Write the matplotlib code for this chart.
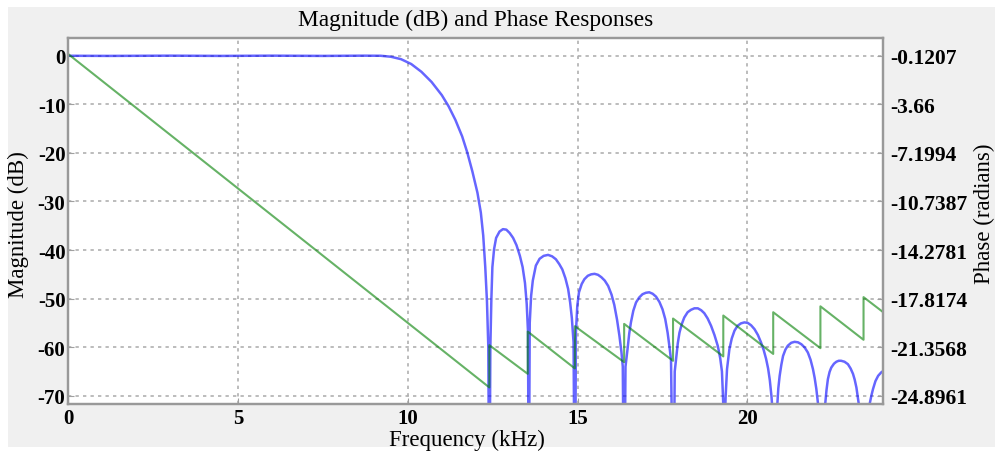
import matplotlib.pyplot as plt
from matplotlib.patches import Rectangle

# magnitude response (kHz, dB)
freq_mag = [0.0, 1.2, 3.0, 4.5, 6.0, 7.5, 8.7, 9.2, 9.5, 9.8, 10.1, 10.4, 10.7, 11.0, 11.2,
            11.4, 11.6, 11.75, 11.9, 12.05, 12.15, 12.22, 12.28, 12.33, 12.37, 12.40,
            12.43, 12.46, 12.49, 12.54, 12.60, 12.70, 12.80, 12.90, 13.00, 13.10, 13.20,
            13.30, 13.38, 13.45, 13.50, 13.54, 13.56,
            13.59, 13.63, 13.68, 13.77, 13.88, 14.00, 14.13, 14.25, 14.36, 14.46, 14.55,
            14.64, 14.72, 14.78, 14.83, 14.88, 14.92,
            14.95, 14.99, 15.04, 15.12, 15.20, 15.30, 15.40, 15.50, 15.60, 15.70, 15.80,
            15.90, 16.00, 16.08, 16.16, 16.23, 16.29, 16.33, 16.37,
            16.41, 16.47, 16.52, 16.57, 16.64, 16.72, 16.81, 16.91, 17.01, 17.11, 17.21,
            17.31, 17.41, 17.50, 17.58, 17.65, 17.71, 17.75, 17.82,
            17.86, 17.90, 17.95, 18.00, 18.07, 18.14, 18.24, 18.34, 18.44, 18.54, 18.64,
            18.73, 18.83, 18.93, 19.03, 19.13, 19.20, 19.25, 19.28, 19.32,
            19.36, 19.40, 19.47, 19.54, 19.62, 19.71, 19.81, 19.91, 20.01, 20.11, 20.21,
            20.31, 20.40, 20.48, 20.55, 20.61, 20.66, 20.71, 20.81,
            20.88, 20.91, 20.95, 21.00, 21.05, 21.12, 21.19, 21.29, 21.39, 21.49, 21.59,
            21.69, 21.78, 21.86, 21.93, 21.98, 22.03, 22.08, 22.18,
            22.29, 22.33, 22.37, 22.42, 22.47, 22.55, 22.62, 22.69, 22.76, 22.86, 22.96,
            23.04, 23.11, 23.16, 23.21, 23.28, 23.44,
            23.60, 23.65, 23.70, 23.77, 23.85, 23.94, 24.0]
mag_db = [0.0, -0.03, 0.02, -0.03, 0.02, -0.03, 0.02, 0.0, -0.2, -0.7, -1.7, -3.3, -5.4, -8.1, -10.4,
          -13.2, -16.6, -19.9, -23.8, -28.2, -32.3, -37.0, -43.5, -50.5, -60.0, -100.0,
          -60.0, -50.1, -43.5, -39.8, -37.5, -36.2, -35.7, -35.8, -36.5, -37.5, -39.0,
          -41.2, -43.5, -46.8, -51.0, -57.0, -100.0,
          -55.0, -49.5, -46.3, -43.2, -41.8, -41.2, -41.0, -41.3, -41.9, -42.9, -44.0,
          -45.8, -48.0, -50.8, -54.0, -59.0, -100.0,
          -57.0, -51.5, -48.7, -47.0, -46.0, -45.3, -45.0, -44.9, -45.1, -45.6, -46.3,
          -47.4, -49.2, -51.3, -54.3, -57.6, -61.0, -64.0, -100.0,
          -64.0, -60.4, -57.2, -54.9, -52.5, -50.8, -49.8, -49.1, -48.8, -48.7, -49.0,
          -49.6, -50.7, -52.2, -54.2, -57.0, -60.2, -62.6, -100.0,
          -65.0, -62.4, -59.2, -57.0, -55.2, -53.9, -52.8, -52.3, -52.0, -52.0, -52.4,
          -53.0, -54.1, -55.6, -57.5, -59.8, -62.3, -65.0, -70.0, -78.0,
          -70.0, -64.5, -60.4, -58.2, -56.6, -55.6, -55.1, -54.9, -55.0, -55.5, -56.3,
          -57.5, -59.0, -60.6, -62.4, -64.4, -66.8, -70.2, -80.0,
          -71.7, -68.5, -65.9, -63.6, -61.8, -60.5, -59.7, -59.1, -58.9, -59.0, -59.4,
          -60.1, -61.1, -62.6, -64.5, -66.3, -68.6, -71.7, -80.0,
          -71.7, -68.8, -66.6, -65.1, -64.2, -63.4, -63.0, -62.8, -62.8, -63.0, -63.5,
          -64.4, -65.5, -66.7, -68.3, -71.7, -80.0,
          -71.7, -70.0, -68.6, -67.0, -65.9, -65.2, -64.9]

# phase response (kHz, radians), with the pi jumps at the zeros
freq_phase = [0.0, 12.40, 12.40, 13.53, 13.53, 14.92, 14.92, 16.37, 16.37, 17.81, 17.81,
              19.29, 19.29, 20.76, 20.76, 22.15, 22.15, 23.42, 23.42, 24.0]
phase_rad = [0.0, -24.29, -21.21, -23.30, -20.22, -22.91, -19.83, -22.45, -19.66, -22.35, -19.27,
             -22.03, -19.05, -21.85, -18.81, -21.43, -18.38, -20.82, -17.71, -18.81]

x_ticks = [0, 5, 10, 15, 20]
db_ticks = [0, -10, -20, -30, -40, -50, -60, -70]
phase_ticks = [-0.1207, -3.66, -7.1994, -10.7387, -14.2781, -17.8174, -21.3568, -24.8961]
phase_labels = ['-0.1207', '-3.66', '-7.1994', '-10.7387', '-14.2781', '-17.8174',
                '-21.3568', '-24.8961']

plt.rcParams['font.family'] = 'Liberation Serif'
plt.rcParams['axes.unicode_minus'] = False

fig = plt.figure(figsize=(9.98, 4.52), dpi=100)
fig.patch.set_facecolor('white')
fig.patches.append(Rectangle((0.008, 0.009), 0.989, 0.973, transform=fig.transFigure,
                             facecolor='#f0f0f0', edgecolor='none', zorder=-10))

ax = fig.add_axes([0.0684, 0.104, 0.8166, 0.8107])
ax2 = ax.twinx()

ax.plot(freq_mag, mag_db, color='blue', alpha=0.6, lw=1.8)
ax2.plot(freq_phase, phase_rad, color='#008000', alpha=0.6, lw=1.5)

ylo, yhi = -71.7, 3.75
ax.set_xlim(0, 24)
ax.set_ylim(ylo, yhi)
# right axis lined up so the phase ticks sit on the dB grid
s = (phase_ticks[-1] - phase_ticks[0]) / (db_ticks[-1] - db_ticks[0])
ax2.set_ylim(phase_ticks[0] + s * (ylo - db_ticks[0]), phase_ticks[0] + s * (yhi - db_ticks[0]))

ax.set_xticks(x_ticks)
ax.set_yticks(db_ticks)
ax2.set_yticks(phase_ticks)
ax2.set_yticklabels(phase_labels)

ax.grid(True, color='#b0b0b0', linestyle=(0, (2, 2.5)), lw=1.2)

for a in (ax, ax2):
    for sp in a.spines.values():
        sp.set_color('#999999')
        sp.set_linewidth(1.6)
ax.tick_params(axis='both', direction='in', length=4, color='#a0a0a0', labelsize=15)
ax.tick_params(axis='y', pad=2)
ax.tick_params(axis='x', pad=3)
ax2.tick_params(axis='y', direction='in', length=4, color='#a0a0a0', labelsize=15.5, pad=5)
for lab in ax.get_xticklabels() + ax.get_yticklabels() + ax2.get_yticklabels():
    lab.set_fontweight('bold')

fig.text(0.4765, 0.9425, 'Magnitude (dB) and Phase Responses', ha='center', va='baseline',
         fontsize=16.8)
fig.text(0.4674, 0.0265, 'Frequency (kHz)', ha='center', va='center', fontsize=16.5)
fig.text(0.018, 0.503, 'Magnitude (dB)', ha='center', va='center', rotation=90, fontsize=16.5)
fig.text(0.986, 0.528, 'Phase (radians)', ha='center', va='center', rotation=90, fontsize=16.5)

fig.savefig('out.png', dpi=100, facecolor=fig.get_facecolor())
